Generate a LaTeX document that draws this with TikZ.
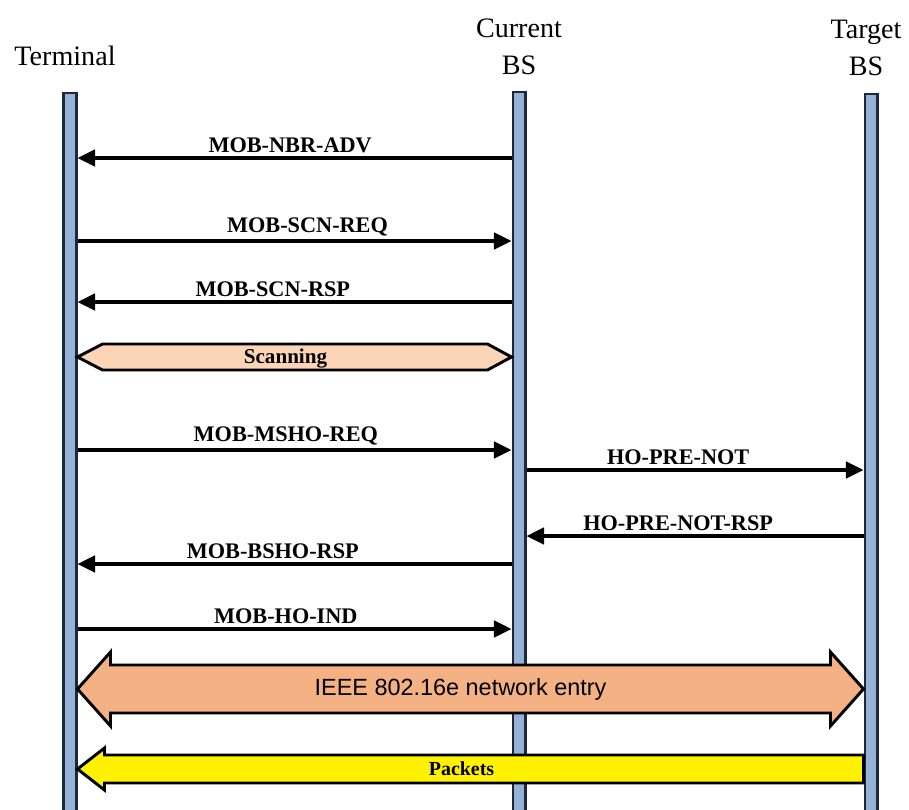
\documentclass[tikz,border=0pt]{standalone}
\usepackage{fontspec}
\setmainfont{Liberation Serif}
\newfontfamily\entryfont{Liberation Sans}
\usepackage{tikz}
\usetikzlibrary{arrows.meta,positioning,calc}
\definecolor{barblue}{HTML}{95B3D7}
\definecolor{barline}{HTML}{1C2740}
\definecolor{scanfill}{HTML}{FBD5B5}
\definecolor{entryfill}{HTML}{F4B183}

\begin{document}
\begin{tikzpicture}[
    x=0.03cm, y=-0.03cm,
    bar/.style={draw=barline, fill=barblue, line width=2pt, minimum width=0.38cm, minimum height=22cm, anchor=north, inner sep=0},
    head/.style={align=center, inner sep=0, font=\fontsize{24}{32}\selectfont},
    msg/.style={-{Triangle[length=15pt, width=14pt]}, line width=3pt},
    lbl/.style={above, inner sep=3pt, font=\fontsize{19}{22}\selectfont\bfseries},
    band/.style={draw, line width=2.5pt, line join=miter},
    node distance=0.4cm
]
\clip (0,0) rectangle (909,809);
\fill[white] (0,0) rectangle (909,809);

\node[bar] (term) at (70,92) {};
\node[bar] (cur) at (519,91) {};
\node[bar] (tgt) at (871,93) {};

\node[head, above=0.78cm of term, xshift=-0.15cm] (termlbl) {Terminal};
\node[head, above=0.47cm of cur] (curlbl) {Current\\BS};
\node[head, above=0.5cm of tgt, xshift=-0.15cm] (tgtlbl) {Target\\BS};

\coordinate (nbr) at (0,158);
\coordinate (scnreq) at (0,241);
\coordinate (scnrsp) at (0,302);
\coordinate (scan) at (0,357);
\coordinate (mshoreq) at (0,450);
\coordinate (hopn) at (0,470);
\coordinate (hopnrsp) at (0,536);
\coordinate (bshorsp) at (0,564);
\coordinate (hoind) at (0,629);
\coordinate (entry) at (0,689);
\coordinate (pkt) at (0,769);

\coordinate (sL) at (term.east |- scan);
\coordinate (sR) at (cur.west |- scan);
\coordinate (eL) at (term.east |- entry);
\coordinate (eR) at (tgt.west |- entry);
\coordinate (pL) at (term.east |- pkt);
\coordinate (pR) at (tgt.west |- pkt);

\draw[band, fill=scanfill] (sL) -- ($(sL)+(25,-13)$) -- ($(sR)+(-24,-13)$) -- (sR) -- ($(sR)+(-24,13)$) -- ($(sL)+(25,13)$) -- cycle;
\node[font=\fontsize{18}{20}\selectfont\bfseries] (scanlbl) at ($(sL)!0.5!(sR)+(-9,2)$) {Scanning};

\draw[band, fill=entryfill] (eL) -- ($(eL)+(33,-37)$) -- ($(eL)+(33,-24)$) -- ($(eR)+(-33,-24)$) -- ($(eR)+(-33,-37)$) -- (eR) -- ($(eR)+(-33,37)$) -- ($(eR)+(-33,24)$) -- ($(eL)+(33,24)$) -- ($(eL)+(33,37)$) -- cycle;
\node[font=\entryfont\fontsize{20}{24}\selectfont] (entrylbl) at ($(eL)!0.5!(eR)+(-10,0)$) {IEEE 802.16e network entry};

\draw[band, fill=yellow] (pL) -- ($(pL)+(27,-21)$) -- ($(pL)+(27,-14)$) -- ($(pR)+(0,-14)$) -- ($(pR)+(0,14)$) -- ($(pL)+(27,14)$) -- ($(pL)+(27,21)$) -- cycle;
\node[font=\fontsize{17}{19}\selectfont\bfseries] (pktlbl) at ($(pL)!0.5!(pR)+(-9,0)$) {Packets};

\draw[msg] (cur.west |- nbr) -- (term.east |- nbr) node[lbl, pos=0.51] (nbrlbl) {MOB-NBR-ADV};
\draw[msg] (term.east |- scnreq) -- (cur.west |- scnreq) node[lbl, pos=0.53] (scnreqlbl) {MOB-SCN-REQ};
\draw[msg] (cur.west |- scnrsp) -- (term.east |- scnrsp) node[lbl, pos=0.55] (scnrsplbl) {MOB-SCN-RSP};
\draw[msg] (term.east |- mshoreq) -- (cur.west |- mshoreq) node[lbl, pos=0.48] (mshoreqlbl) {MOB-MSHO-REQ};
\draw[msg] (cur.east |- hopn) -- (tgt.west |- hopn) node[lbl, pos=0.45] (hopnlbl) {HO-PRE-NOT};
\draw[msg] (tgt.west |- hopnrsp) -- (cur.east |- hopnrsp) node[lbl, pos=0.55] (hopnrsplbl) {HO-PRE-NOT-RSP};
\draw[msg] (cur.west |- bshorsp) -- (term.east |- bshorsp) node[lbl, pos=0.55] (bshorsplbl) {MOB-BSHO-RSP};
\draw[msg] (term.east |- hoind) -- (cur.west |- hoind) node[lbl, pos=0.48] (hoindlbl) {MOB-HO-IND};

\end{tikzpicture}
\end{document}
